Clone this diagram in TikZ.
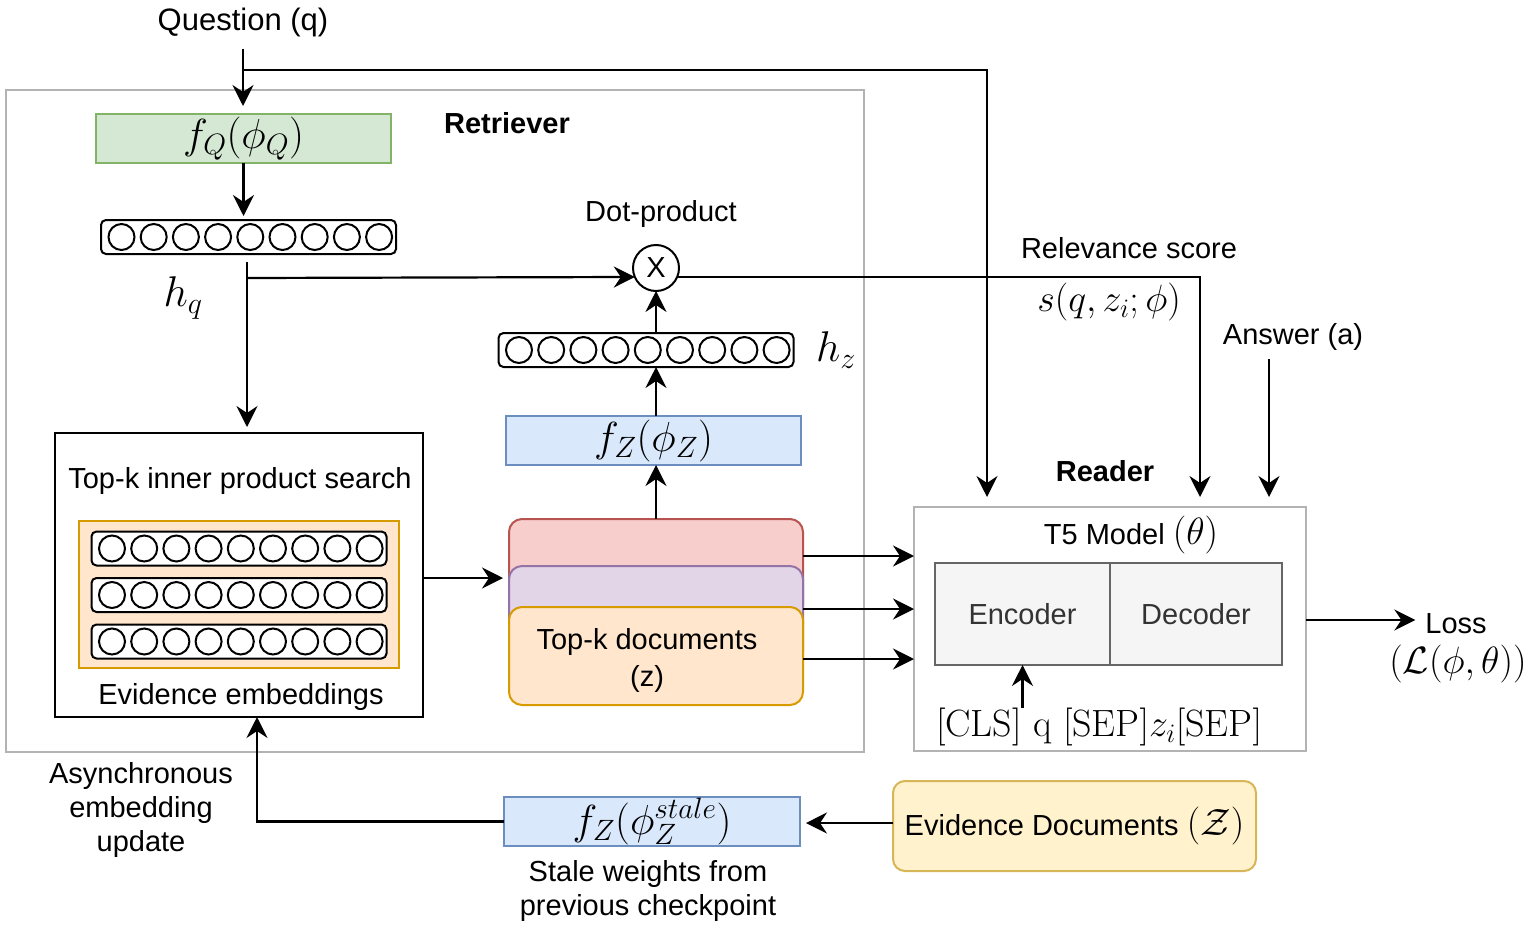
\RequirePackage{fix-cm}
\documentclass[tikz,border=0pt]{standalone}
\usepackage{fontspec}
\newfontfamily\hv{Liberation Sans}
\usetikzlibrary{arrows.meta,calc}
\definecolor{gfill}{HTML}{D5E8D4}\definecolor{gdraw}{HTML}{82B366}
\definecolor{bfill}{HTML}{DAE8FC}\definecolor{bdraw}{HTML}{6C8EBF}
\definecolor{ofill}{HTML}{FFE6CC}\definecolor{odraw}{HTML}{D79B00}
\definecolor{rfill}{HTML}{F8CECC}\definecolor{rdraw}{HTML}{B85450}
\definecolor{pfill}{HTML}{E1D5E7}\definecolor{pdraw}{HTML}{9673A6}
\definecolor{yfill}{HTML}{FFF2CC}\definecolor{ydraw}{HTML}{D6B656}
\definecolor{sfill}{HTML}{F5F5F5}\definecolor{sdraw}{HTML}{666666}
\definecolor{stxt}{HTML}{333333}
\definecolor{framec}{HTML}{B3B3B3}
\newcommand{\embvec}[3]{%
  \node[vecbox] (#1) at (#2,#3) {};
  \foreach \k in {0,...,8}{\draw[vcirc] ($(#1.west)+(20.5+32.2*\k,0)$) circle[radius=13pt];}
}
\begin{document}
\begin{tikzpicture}[x=1pt,y=-1pt,
  every node/.style={inner sep=0pt,outer sep=0pt},
  txt/.style={font=\fontsize{29}{34}\selectfont\hv,align=center,yshift=-2.5pt},
  btxt/.style={font=\fontsize{29}{34}\selectfont\hv\bfseries},
  mth/.style={font=\fontsize{38}{44}\selectfont},
  hm/.style={font=\fontsize{43}{48}\selectfont},
  ln/.style={line width=2.2pt},
  arr/.style={line width=2.2pt,-{Stealth[length=21pt,width=21pt,inset=7pt]}},
  frame/.style={draw=framec,line width=2pt},
  vecbox/.style={draw,line width=2pt,rounded corners=5pt,minimum width=295pt,minimum height=34pt,fill=white},
  vcirc/.style={line width=2pt},
  gbox/.style={draw=gdraw,fill=gfill,line width=2pt,minimum width=295pt,minimum height=49pt,font=\fontsize{42}{48}\selectfont},
  bbox/.style={draw=bdraw,fill=bfill,line width=2pt,minimum width=295pt,minimum height=49pt,font=\fontsize{42}{48}\selectfont},
  docbox/.style={line width=2pt,rounded corners=13pt,minimum width=294pt,minimum height=99pt},
  sbox/.style={draw=sdraw,fill=sfill,line width=2pt,minimum height=102pt,text=stxt,font=\fontsize{29}{34}\selectfont\hv},
]
\useasboundingbox (0,0) rectangle (1529,926);

% Retriever frame
\node[frame,minimum width=858pt,minimum height=662pt] (ret) at (435,421) {};
\node[btxt] (retl) at (507,123) {Retriever};

% Question
\node[txt,font=\fontsize{31}{36}\selectfont\hv] (q) at (243,20) {Question (q)};
\node[gbox] (fq) at (243.5,138.5) {$f_Q(\phi_Q)$};
\coordinate (qsplit) at (243,70);

\embvec{hq}{248.5}{237}
\node[hm] (hql) at (183,298) {$h_q$};
\coordinate (hqsplit) at (247,278);

% dot product
\node[draw,circle,line width=2pt,minimum size=46pt,font=\fontsize{29}{34}\selectfont\hv] (dot) at (656,268) {X};
\node[txt] (dotl) at (661,211) {Dot-product};

\embvec{hz}{646}{350}
\node[hm] (hzl) at (836,350) {$h_z$};
\node[bbox] (fz) at (653.5,440.5) {$f_Z(\phi_Z)$};

% Top-k search
\node[draw,line width=2pt,minimum width=368pt,minimum height=284pt] (topk) at (239,575) {};
\node[txt] (topkl) at (240,478) {Top-k inner product search};
\node[draw=odraw,fill=ofill,line width=2pt,minimum width=320pt,minimum height=147pt] (evemb) at (239,594.5) {};
\embvec{ev1}{239}{548.5}
\embvec{ev2}{239}{595}
\embvec{ev3}{239}{641.5}
\node[txt] (evembl) at (241,694) {Evidence embeddings};

% Top-k documents
\node[docbox,draw=rdraw,fill=rfill] (docR) at (656,568.5) {};
\node[docbox,draw=pdraw,fill=pfill] (docP) at (656,615.5) {};
\node[docbox,draw=odraw,fill=ofill,minimum height=98pt] (docO) at (656,656) {};
\node[txt,font=\fontsize{29}{37}\selectfont\hv] (docl) at (647,658) {Top-k documents\\(z)};

% Reader
\node[frame,minimum width=392pt,minimum height=244pt] (reader) at (1110,629) {};
\node[btxt] (readerl) at (1105,471) {Reader};
\node[txt] (t5) at (1131,532) {T5 Model {\fontsize{38}{44}\selectfont$(\theta)$}};
\node[sbox,minimum width=175pt] (enc) at (1022.5,614) {Encoder};
\node[sbox,minimum width=172pt] (dec) at (1196,614) {Decoder};
\node[mth] (cls) at (1099,727) {$\mathrm{[CLS]}\ \mathrm{q}\ \mathrm{[SEP]}z_i\mathrm{[SEP]}$};

\node[txt] (rell) at (1129,246) {Relevance score};
\node[mth] (score) at (1109,302) {$s(q,z_i;\phi)$};
\node[txt] (ans) at (1293,334) {Answer (a)};
\node[txt] (loss) at (1456,621) {Loss};
\node[mth] (lossf) at (1458,664) {$(\mathcal{L}(\phi,\theta))$};

% bottom
\node[draw=ydraw,fill=yfill,line width=2pt,rounded corners=12pt,minimum width=363pt,minimum height=90pt,font=\fontsize{29}{34}\selectfont\hv] (evd) at (1074.5,826) {Evidence Documents {\fontsize{38}{44}\selectfont$(\mathcal{Z})$}};
\node[bbox,minimum width=296pt] (fst) at (652,821.5) {$f_Z(\phi_Z^{stale})$};
\node[txt] (asyl) at (141,807) {Asynchronous\\embedding\\update};
\node[txt] (stl) at (648,888) {Stale weights from\\previous checkpoint};

% connectors
\draw[arr,shorten <=12pt,shorten >=8pt] (q.south) -- (q.south |- fq.north);
\draw[arr,shorten >=10pt] (qsplit) -| ($(reader.north west)+(73,0)$);
\draw[arr,shorten >=4pt] (fq.south) -- (fq.south |- hq.north);
\draw[ln] ([yshift=-8pt]hq.south -| hqsplit) -- (hqsplit);
\draw[arr,shorten >=6pt] (hqsplit) -- (hqsplit |- topk.north);
\draw[arr] (hqsplit) -- (dot.203);
\draw[arr] (hz.north -| dot.south) -- (dot.south);
\draw[arr] (fz.north -| dot.south) -- (hz.south -| dot.south);
\draw[arr] (docR.north -| dot.south) -- (fz.south -| dot.south);
\draw[arr,shorten >=6pt] ([yshift=-3pt]topk.east) -- ([yshift=-3pt]topk.east -| docR.west);
\draw[arr,shorten >=10pt] (dot.-23) -| ($(reader.north west)+(286,0)$);
\draw[arr,shorten >=10pt] ([xshift=-24pt,yshift=-9pt]ans.south) -- ([xshift=-24pt]ans.south |- reader.north);
\draw[arr] ([yshift=-37pt]docR.north east) -- ([yshift=-37pt]docR.north east -| reader.west);
\draw[arr] ([yshift=-43pt]docP.north east) -- ([yshift=-43pt]docP.north east -| reader.west);
\draw[arr] ([yshift=-52pt]docO.north east) -- ([yshift=-52pt]docO.north east -| reader.west);
\draw[arr] (cls.north -| enc.south) -- (enc.south);
\draw[arr,shorten >=10pt] ([yshift=9pt]reader.east) -- ([yshift=9pt]reader.east -| loss.west);
\draw[arr,shorten >=6pt] ([yshift=3pt]evd.west) -- ([yshift=3pt]evd.west -| fst.east);
\draw[arr] (fst.west) -| ([xshift=18pt]topk.south);
\end{tikzpicture}
\end{document}
